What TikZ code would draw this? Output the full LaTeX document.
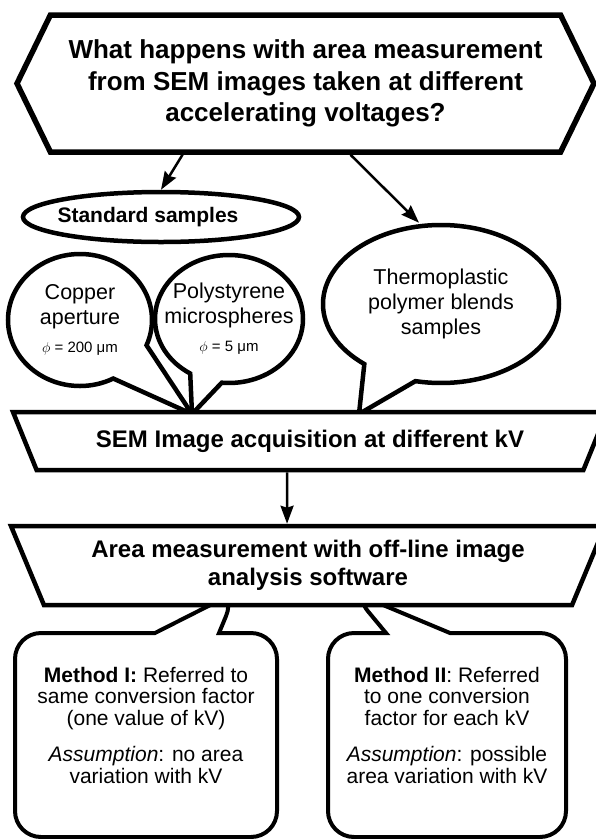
\documentclass[tikz,border=0pt]{standalone}
\usepackage{fontspec}
\setmainfont{Liberation Sans}
\usetikzlibrary{shapes.geometric, arrows.meta, shapes.symbols, shapes.callouts}

\begin{document}
\begin{tikzpicture}[x=1pt, y=-1pt,
    question/.style={signal, signal to=west and east, signal pointer angle=128, draw, line width=5.5pt, fill=white, minimum width=577pt, minimum height=137pt, inner sep=2pt, align=center, font=\fontsize{26}{31.5}\selectfont\bfseries},
    group/.style={ellipse, draw, line width=4.5pt, minimum width=276pt, minimum height=50pt, inner sep=0pt, font=\fontsize{21}{25}\selectfont\bfseries},
    sample/.style={ellipse callout, draw, line width=4.5pt, fill=white, inner sep=-15pt, align=center, font=\fontsize{21.5}{25}\selectfont},
    stage/.style={trapezium, shape border rotate=180, trapezium stretches body, draw, line width=4.5pt, fill=white, minimum width=594pt, align=center, font=\fontsize{24}{28}\selectfont\bfseries},
    method/.style={rectangle callout, draw, line width=4pt, fill=white, rounded corners=26pt, callout pointer width=64pt, text depth=20pt, align=center, font=\fontsize{21}{21.5}\selectfont},
    relation/.style={->, >={Stealth[length=18pt, width=13pt, inset=2pt]}, line width=2.5pt}
]
\useasboundingbox (0,0) rectangle (596,839);

% Tips of the callouts
\coordinate (tipA) at (192,414);
\coordinate (tipB) at (359,414);
\coordinate (tipC) at (236,592);
\coordinate (tipD) at (352,592);

% Question
\node[question] (question) at (305.5,83.5) {What happens with area measurement\\from SEM images taken at different\\accelerating voltages?};

% Samples
\node[group] (standard) at (161,217) {\hspace*{-26pt}Standard samples};
\node[sample, minimum width=144pt, minimum height=132pt, callout absolute pointer=(tipA), callout pointer arc=40] (copper) at (80,320)
    {Copper\\aperture\\[3pt]{\fontsize{15}{18}\selectfont $\phi$ = 200 μm}};
\node[sample, minimum width=148pt, minimum height=128pt, callout absolute pointer=(tipA), callout pointer arc=26] (styrene) at (229,319)
    {Polystyrene\\microspheres\\[3pt]{\fontsize{15}{18}\selectfont $\phi$ = 5 μm}};
\node[sample, minimum width=236pt, minimum height=158pt, callout absolute pointer=(tipB), callout pointer arc=28] (blends) at (441,304)
    {Thermoplastic\\polymer blends\\samples};

% Image acquisition
\node[stage, minimum height=58pt, trapezium angle=51] (acquisition) at (310,441) {SEM Image acquisition at different kV};

% Methods
\node[method, minimum width=262pt, minimum height=204pt, callout absolute pointer=(tipC)] (methodI) at (146,735)
    {\textbf{Method I:} Referred to\\same conversion factor\\(one value of kV)\\[15pt]\textit{Assumption}: no area\\variation with kV};
\node[method, minimum width=238pt, minimum height=204pt, callout absolute pointer=(tipD)] (methodII) at (447,735)
    {\textbf{Method II}: Referred\\to one conversion\\factor for each kV\\[15pt]\textit{Assumption}: possible\\area variation with kV};

% Measurement
\node[stage, minimum height=79pt, trapezium angle=60] (measurement) at (308,565.5) {Area measurement with off-line image\\analysis software};

% Arrows
\draw[relation] ([xshift=-123pt]question.south) -- (standard.north);
\draw[relation] ([xshift=45pt]question.south) -- ([xshift=-22pt]blends.north);
\draw[relation] ([xshift=-23pt]acquisition.south) -- ([xshift=-21pt]measurement.north);

\end{tikzpicture}
\end{document}
